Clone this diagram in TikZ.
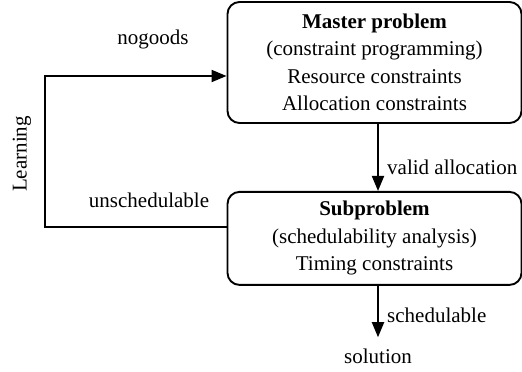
\documentclass[tikz,border=0pt]{standalone}
\usepackage{fontspec}
\setmainfont{Liberation Serif}
\usepackage{tikz}
\usetikzlibrary{arrows.meta,positioning}

\begin{document}
\begin{tikzpicture}[
  x=1pt, y=1pt,
  >={Triangle[length=15pt, width=12pt]},
  every node/.style={font=\fontsize{21}{27.5}\selectfont, align=center},
  problem/.style={draw, rounded corners=12pt, line width=1.9pt, minimum width=294pt, inner sep=0pt},
  label/.style={inner sep=0pt},
  arrow/.style={->, line width=1.9pt}
]
\useasboundingbox (0,0) rectangle (522,372);

\node[problem, minimum height=121pt] (master) at (374.5,309.5) {\textbf{Master problem}\\(constraint programming)\\Resource constraints\\Allocation constraints};
\node[problem, minimum height=93pt, below=67pt of master] (sub) {\textbf{Subproblem}\\(schedulability analysis)\\Timing constraints};

\node[label, anchor=base] (sol) at (378,9) {solution};
\node[label, anchor=base west] (valid) at (387,197) {valid allocation};
\node[label, anchor=base west] (sched) at (387,49) {schedulable};
\node[label, anchor=base] (nogood) at (153,327) {nogoods};
\node[label, anchor=base] (unsched) at (149,164) {unschedulable};
\node[label, rotate=90] (learn) at (22,218) {Learning};

\coordinate (fbtop) at (45,296);
\coordinate (fbbot) at (45,145);

\draw[arrow] (master.south -| sol.north) -- (sub.north -| sol.north);
\draw[arrow, shorten >=11pt] (sub.south -| sol.north) -- (sol.north);
\draw[arrow] (sub.west |- fbbot) -- (fbbot) -- (fbtop) -- (master.west |- fbtop);

\end{tikzpicture}
\end{document}
